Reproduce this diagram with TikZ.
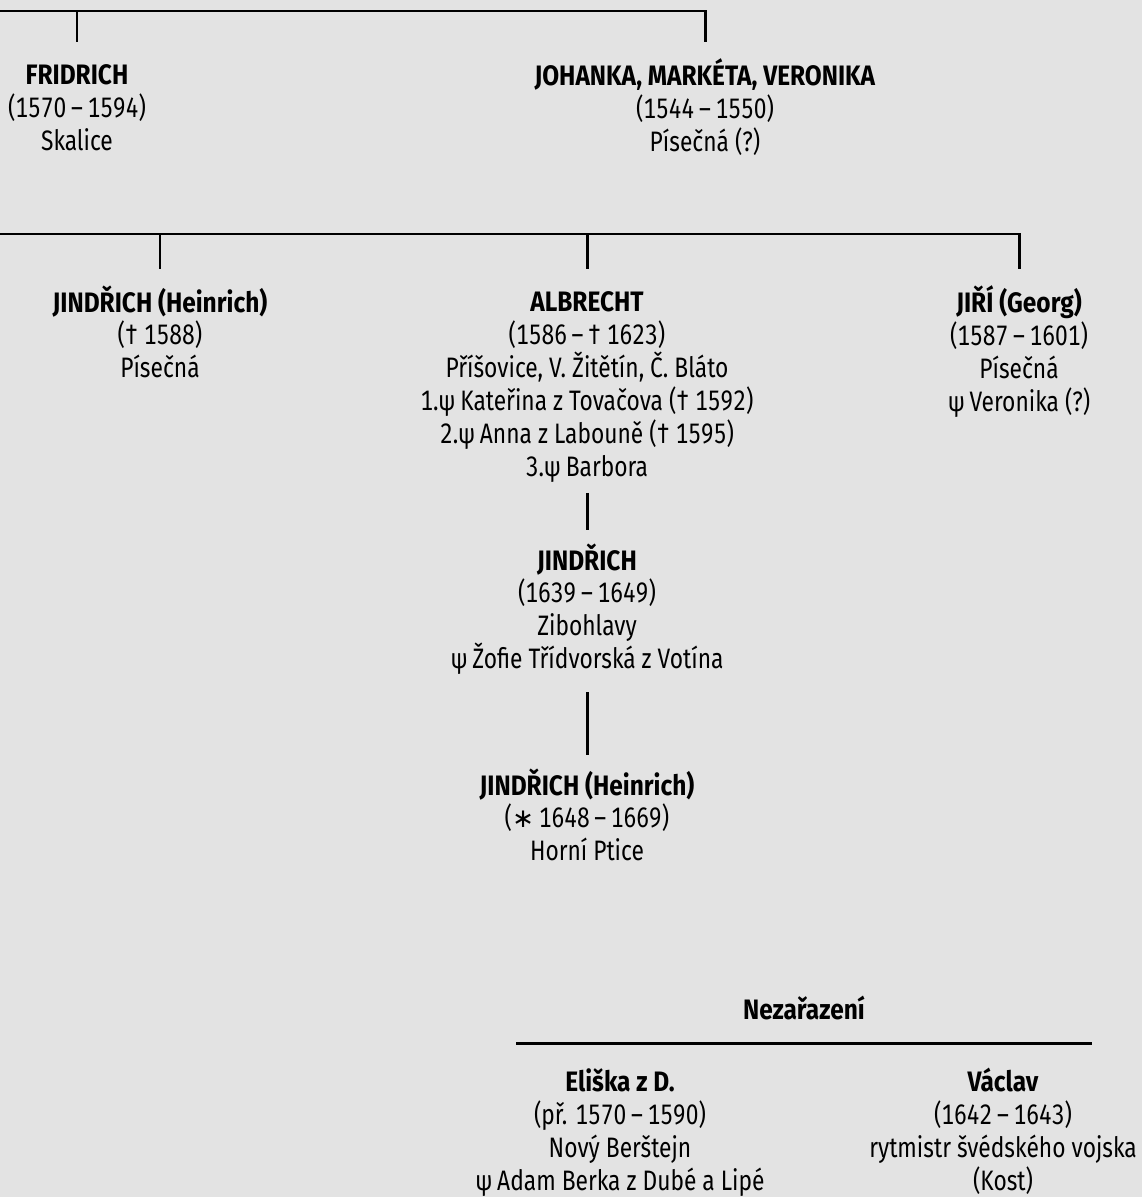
\documentclass[tikz,border=0pt]{standalone}
\usepackage{fontspec}
\setmainfont{Fira Sans}[FakeStretch=0.81,Numbers=Monospaced,BoldFeatures={FakeStretch=0.87}]
\newfontfamily\znaky{DejaVu Sans}
\definecolor{pozadi}{HTML}{E3E3E3}
\newcommand\horni{\rule{0pt}{15pt}}
\newcommand\pomlcka{\thinspace–\thinspace}
\newcommand\narozen{\smash{\znaky\fontsize{15}{15}\selectfont ∗}}
\begin{document}
\begin{tikzpicture}[x=0.02cm,y=-0.02cm,
 osoba/.style={anchor=north,yshift=0.336cm,align=center,inner sep=0pt,
  font=\fontsize{16}{18.7}\selectfont},
 cara/.style={line width=1.7pt},
 spoj/.style={cara,shorten >=0.33cm}]
 \fill[pozadi] (0,0) rectangle (1142,1197);
 \useasboundingbox (0,0) rectangle (1142,1197);
 \coordinate (r1) at (0,11);
 \coordinate (r2) at (0,234);
 \coordinate (n1) at (516,1043);
 \coordinate (n2) at (1092,1043);
 \path
 (77,75) node[osoba] (fridrich) {\horni\textbf{FRIDRICH}\\(1570\pomlcka 1594)\\Skalice\strut} % <<< řada 1
 (705,75) node[osoba] (johanka) {\horni\textbf{JOHANKA, MARKÉTA, VERONIKA}\\(1544\pomlcka 1550)\\Písečná (?)\strut}
 (160,302) node[osoba] (jindrich) {\horni\textbf{JINDŘICH (Heinrich)}\\(† 1588)\\Písečná\strut} % <<< řada 2
 (587,302) node[osoba] (albrecht) {\horni\textbf{ALBRECHT}\\(1586\pomlcka † 1623)\\Příšovice, V. Žitětín, Č. Bláto\\
  1.ψ\thinspace Kateřina z Tovačova († 1592)\\2.ψ\thinspace Anna z Labouně († 1595)\\3.ψ\thinspace Barbora\strut}
 (1019,302) node[osoba] (jiri) {\horni\textbf{JIŘÍ (Georg)}\\(1587\pomlcka 1601)\\Písečná\\ψ\thinspace Veronika (?)\strut}
 (587,560) node[osoba] (jindrichII) {\horni\textbf{JINDŘICH}\\(1639\pomlcka 1649)\\Zibohlavy\\ψ\thinspace Žofie Třídvorská z Votína\strut} % <<< řada 3
 (587,785) node[osoba] (jindrichIII) {\horni\textbf{JINDŘICH (Heinrich)}\\(\narozen\thinspace 1648\pomlcka 1669)\\Horní Ptice\strut}
 (804,1010) node[osoba] (nezarazeni) {\horni\textbf{Nezařazení}\strut} % <<< nezařazení
 (620,1082) node[osoba] (eliska) {\horni\textbf{Eliška z D.}\\(př. 1570\pomlcka 1590)\\Nový Berštejn\\ψ\thinspace Adam Berka z Dubé a Lipé\strut}
 (1003,1082) node[osoba] (vaclav) {\horni\textbf{Václav}\\(1642\pomlcka 1643)\\rytmistr švédského vojska\\(Kost)\strut};
 \draw[spoj] (r1) -| (johanka.north);
 \draw[spoj] (fridrich.north |- r1) -- (fridrich.north);
 \draw[spoj] (r2) -| (jiri.north);
 \draw[spoj] (jindrich.north |- r2) -- (jindrich.north);
 \draw[spoj] (albrecht.north |- r2) -- (albrecht.north);
 \draw[cara,shorten <=0.13cm,shorten >=0.26cm] (albrecht.south) -- (jindrichII.north);
 \draw[cara,shorten <=0.27cm,shorten >=0.26cm] (jindrichII.south) -- (jindrichIII.north);
 \draw[cara] (n1) -- (n2);
\end{tikzpicture}
\end{document}
